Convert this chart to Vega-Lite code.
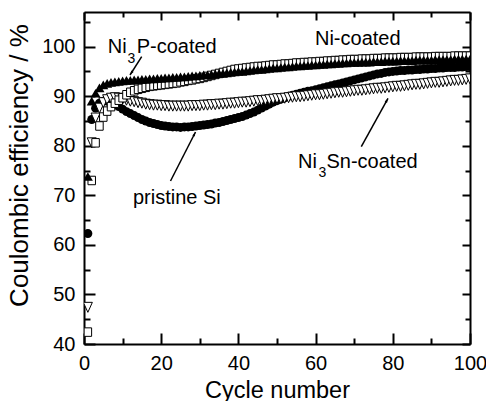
{
  "$schema": "https://vega.github.io/schema/vega-lite/v6.json",
  "width": 386,
  "height": 332,
  "autosize": {"type": "none"},
  "padding": {"left": 84, "top": 12, "right": 16, "bottom": 57},
  "background": "white",
  "config": {
    "view": {"stroke": null},
    "font": "Liberation Sans",
    "axis": {
      "grid": false,
      "domainColor": "black",
      "domainWidth": 2,
      "tickColor": "black",
      "tickWidth": 2,
      "labelColor": "black",
      "titleColor": "black",
      "labelFont": "Liberation Sans",
      "titleFont": "Liberation Sans",
      "labelFontSize": 20,
      "titleFontSize": 23.5,
      "titleFontWeight": "normal",
      "labelFlush": false,
      "labelOverlap": false,
      "labelBound": false
    }
  },
  "data": {
    "values": [
      {"cycle": 1, "si": 62.3, "p": 73.8, "sn": 47.4, "ni": 42.4},
      {"cycle": 2, "si": 85.3, "p": 89.0, "sn": 80.6, "ni": 73.0},
      {"cycle": 3, "si": 87.6, "p": 90.6, "sn": 85.6, "ni": 80.6},
      {"cycle": 4, "si": 88.6, "p": 91.7, "sn": 87.6, "ni": 84.0},
      {"cycle": 5, "si": 89.0, "p": 92.3, "sn": 88.7, "ni": 85.8},
      {"cycle": 6, "si": 89.0, "p": 92.6, "sn": 89.3, "ni": 87.0},
      {"cycle": 7, "si": 88.8, "p": 92.8, "sn": 89.6, "ni": 87.9},
      {"cycle": 8, "si": 88.4, "p": 92.9, "sn": 89.7, "ni": 88.6},
      {"cycle": 9, "si": 87.9, "p": 93.0, "sn": 89.6, "ni": 89.2},
      {"cycle": 10, "si": 87.4, "p": 93.1, "sn": 89.4, "ni": 89.7},
      {"cycle": 11, "si": 86.9, "p": 93.2, "sn": 89.2, "ni": 90.3},
      {"cycle": 12, "si": 86.5, "p": 93.2, "sn": 89.0, "ni": 90.8},
      {"cycle": 13, "si": 86.1, "p": 93.3, "sn": 88.9, "ni": 91.1},
      {"cycle": 14, "si": 85.7, "p": 93.3, "sn": 88.7, "ni": 91.4},
      {"cycle": 15, "si": 85.3, "p": 93.4, "sn": 88.6, "ni": 91.6},
      {"cycle": 16, "si": 85.0, "p": 93.4, "sn": 88.4, "ni": 91.8},
      {"cycle": 17, "si": 84.7, "p": 93.5, "sn": 88.3, "ni": 92.0},
      {"cycle": 18, "si": 84.5, "p": 93.5, "sn": 88.2, "ni": 92.1},
      {"cycle": 19, "si": 84.3, "p": 93.6, "sn": 88.2, "ni": 92.2},
      {"cycle": 20, "si": 84.1, "p": 93.6, "sn": 88.1, "ni": 92.3},
      {"cycle": 21, "si": 84.0, "p": 93.7, "sn": 88.1, "ni": 92.4},
      {"cycle": 22, "si": 83.9, "p": 93.7, "sn": 88.0, "ni": 92.5},
      {"cycle": 23, "si": 83.8, "p": 93.8, "sn": 88.0, "ni": 92.6},
      {"cycle": 24, "si": 83.8, "p": 93.8, "sn": 88.0, "ni": 92.7},
      {"cycle": 25, "si": 83.7, "p": 93.9, "sn": 88.0, "ni": 92.9},
      {"cycle": 26, "si": 83.8, "p": 93.9, "sn": 88.0, "ni": 93.0},
      {"cycle": 27, "si": 83.8, "p": 94.0, "sn": 88.0, "ni": 93.2},
      {"cycle": 28, "si": 83.9, "p": 94.1, "sn": 88.1, "ni": 93.3},
      {"cycle": 29, "si": 84.0, "p": 94.1, "sn": 88.1, "ni": 93.5},
      {"cycle": 30, "si": 84.1, "p": 94.2, "sn": 88.1, "ni": 93.6},
      {"cycle": 31, "si": 84.2, "p": 94.3, "sn": 88.2, "ni": 93.8},
      {"cycle": 32, "si": 84.3, "p": 94.3, "sn": 88.2, "ni": 94.0},
      {"cycle": 33, "si": 84.4, "p": 94.4, "sn": 88.3, "ni": 94.2},
      {"cycle": 34, "si": 84.6, "p": 94.5, "sn": 88.3, "ni": 94.4},
      {"cycle": 35, "si": 84.7, "p": 94.6, "sn": 88.4, "ni": 94.6},
      {"cycle": 36, "si": 84.9, "p": 94.6, "sn": 88.4, "ni": 94.8},
      {"cycle": 37, "si": 85.1, "p": 94.7, "sn": 88.5, "ni": 95.0},
      {"cycle": 38, "si": 85.3, "p": 94.8, "sn": 88.6, "ni": 95.2},
      {"cycle": 39, "si": 85.5, "p": 94.9, "sn": 88.6, "ni": 95.4},
      {"cycle": 40, "si": 85.7, "p": 95.0, "sn": 88.7, "ni": 95.5},
      {"cycle": 41, "si": 85.9, "p": 95.0, "sn": 88.8, "ni": 95.6},
      {"cycle": 42, "si": 86.2, "p": 95.1, "sn": 88.8, "ni": 95.7},
      {"cycle": 43, "si": 86.5, "p": 95.2, "sn": 88.9, "ni": 95.8},
      {"cycle": 44, "si": 86.8, "p": 95.3, "sn": 89.0, "ni": 95.9},
      {"cycle": 45, "si": 87.2, "p": 95.4, "sn": 89.1, "ni": 96.0},
      {"cycle": 46, "si": 87.6, "p": 95.4, "sn": 89.1, "ni": 96.0},
      {"cycle": 47, "si": 88.0, "p": 95.5, "sn": 89.2, "ni": 96.1},
      {"cycle": 48, "si": 88.4, "p": 95.6, "sn": 89.3, "ni": 96.2},
      {"cycle": 49, "si": 88.8, "p": 95.7, "sn": 89.4, "ni": 96.3},
      {"cycle": 50, "si": 89.1, "p": 95.7, "sn": 89.5, "ni": 96.3},
      {"cycle": 51, "si": 89.4, "p": 95.8, "sn": 89.5, "ni": 96.4},
      {"cycle": 52, "si": 89.7, "p": 95.9, "sn": 89.6, "ni": 96.5},
      {"cycle": 53, "si": 90.0, "p": 95.9, "sn": 89.7, "ni": 96.5},
      {"cycle": 54, "si": 90.2, "p": 96.0, "sn": 89.8, "ni": 96.6},
      {"cycle": 55, "si": 90.4, "p": 96.1, "sn": 89.9, "ni": 96.7},
      {"cycle": 56, "si": 90.6, "p": 96.1, "sn": 89.9, "ni": 96.7},
      {"cycle": 57, "si": 90.8, "p": 96.2, "sn": 90.0, "ni": 96.8},
      {"cycle": 58, "si": 91.0, "p": 96.2, "sn": 90.1, "ni": 96.8},
      {"cycle": 59, "si": 91.1, "p": 96.3, "sn": 90.2, "ni": 96.9},
      {"cycle": 60, "si": 91.3, "p": 96.3, "sn": 90.3, "ni": 96.9},
      {"cycle": 61, "si": 91.5, "p": 96.4, "sn": 90.3, "ni": 97.0},
      {"cycle": 62, "si": 91.7, "p": 96.4, "sn": 90.4, "ni": 97.0},
      {"cycle": 63, "si": 91.9, "p": 96.5, "sn": 90.5, "ni": 97.1},
      {"cycle": 64, "si": 92.1, "p": 96.5, "sn": 90.6, "ni": 97.1},
      {"cycle": 65, "si": 92.3, "p": 96.6, "sn": 90.7, "ni": 97.2},
      {"cycle": 66, "si": 92.5, "p": 96.6, "sn": 90.8, "ni": 97.2},
      {"cycle": 67, "si": 92.7, "p": 96.7, "sn": 90.8, "ni": 97.3},
      {"cycle": 68, "si": 92.9, "p": 96.7, "sn": 90.9, "ni": 97.3},
      {"cycle": 69, "si": 93.1, "p": 96.8, "sn": 91.0, "ni": 97.4},
      {"cycle": 70, "si": 93.3, "p": 96.8, "sn": 91.1, "ni": 97.4},
      {"cycle": 71, "si": 93.5, "p": 96.8, "sn": 91.2, "ni": 97.4},
      {"cycle": 72, "si": 93.7, "p": 96.9, "sn": 91.2, "ni": 97.5},
      {"cycle": 73, "si": 93.9, "p": 96.9, "sn": 91.3, "ni": 97.5},
      {"cycle": 74, "si": 94.1, "p": 96.9, "sn": 91.4, "ni": 97.5},
      {"cycle": 75, "si": 94.3, "p": 97.0, "sn": 91.5, "ni": 97.6},
      {"cycle": 76, "si": 94.5, "p": 97.0, "sn": 91.6, "ni": 97.6},
      {"cycle": 77, "si": 94.6, "p": 97.0, "sn": 91.6, "ni": 97.6},
      {"cycle": 78, "si": 94.8, "p": 97.1, "sn": 91.7, "ni": 97.7},
      {"cycle": 79, "si": 94.9, "p": 97.1, "sn": 91.8, "ni": 97.7},
      {"cycle": 80, "si": 95.0, "p": 97.1, "sn": 91.9, "ni": 97.7},
      {"cycle": 81, "si": 95.1, "p": 97.1, "sn": 92.0, "ni": 97.7},
      {"cycle": 82, "si": 95.2, "p": 97.2, "sn": 92.0, "ni": 97.8},
      {"cycle": 83, "si": 95.2, "p": 97.2, "sn": 92.1, "ni": 97.8},
      {"cycle": 84, "si": 95.3, "p": 97.2, "sn": 92.2, "ni": 97.8},
      {"cycle": 85, "si": 95.3, "p": 97.2, "sn": 92.3, "ni": 97.8},
      {"cycle": 86, "si": 95.4, "p": 97.3, "sn": 92.4, "ni": 97.9},
      {"cycle": 87, "si": 95.4, "p": 97.3, "sn": 92.4, "ni": 97.9},
      {"cycle": 88, "si": 95.5, "p": 97.3, "sn": 92.5, "ni": 97.9},
      {"cycle": 89, "si": 95.5, "p": 97.3, "sn": 92.6, "ni": 97.9},
      {"cycle": 90, "si": 95.6, "p": 97.3, "sn": 92.7, "ni": 97.9},
      {"cycle": 91, "si": 95.6, "p": 97.4, "sn": 92.8, "ni": 98.0},
      {"cycle": 92, "si": 95.7, "p": 97.4, "sn": 92.8, "ni": 98.0},
      {"cycle": 93, "si": 95.7, "p": 97.4, "sn": 92.9, "ni": 98.0},
      {"cycle": 94, "si": 95.8, "p": 97.4, "sn": 93.0, "ni": 98.0},
      {"cycle": 95, "si": 95.8, "p": 97.4, "sn": 93.1, "ni": 98.0},
      {"cycle": 96, "si": 95.8, "p": 97.5, "sn": 93.2, "ni": 98.1},
      {"cycle": 97, "si": 95.9, "p": 97.5, "sn": 93.2, "ni": 98.1},
      {"cycle": 98, "si": 95.9, "p": 97.5, "sn": 93.3, "ni": 98.1},
      {"cycle": 99, "si": 96.0, "p": 97.5, "sn": 93.4, "ni": 98.1},
      {"cycle": 100, "si": 96.0, "p": 97.5, "sn": 93.5, "ni": 98.1}
    ]
  },
  "layer": [
    {
      "mark": {"type": "point", "shape": "circle", "filled": true, "fill": "black", "strokeWidth": 0, "size": 80, "opacity": 1, "clip": true},
      "encoding": {
        "x": {
          "field": "cycle", "type": "quantitative",
          "scale": {"domain": [0, 100], "nice": false, "zero": false},
          "axis": {"orient": "bottom", "values": [0, 20, 40, 60, 80, 100], "tickSize": -11, "labelPadding": 20,
                   "title": "Cycle number", "titleY": 53, "titleBaseline": "alphabetic"}
        },
        "y": {
          "field": "si", "type": "quantitative",
          "scale": {"domain": [40, 107], "nice": false, "zero": false},
          "axis": {"orient": "left", "values": [40, 50, 60, 70, 80, 90, 100], "tickSize": -11, "labelPadding": 20,
                   "title": "Coulombic efficiency / %", "titleFontSize": 26, "titleAngle": 270, "titleX": -57, "titleY": 153,
                   "titleAlign": "center", "titleBaseline": "alphabetic"}
        }
      }
    },
    {
      "mark": {"type": "point", "shape": "M-0.9,-1L0.9,-1L0,1Z", "filled": true, "fill": "white", "stroke": "black", "strokeWidth": 1, "size": 100, "opacity": 1, "clip": true},
      "encoding": {
        "x": {
          "field": "cycle", "type": "quantitative",
          "scale": {"domain": [0, 100], "nice": false, "zero": false},
          "axis": {"orient": "top", "values": [0, 20, 40, 60, 80, 100], "tickSize": -8, "labels": false, "title": null}
        },
        "y": {
          "field": "sn", "type": "quantitative",
          "scale": {"domain": [40, 107], "nice": false, "zero": false},
          "axis": {"orient": "right", "values": [40, 50, 60, 70, 80, 90, 100], "tickSize": -8, "labels": false, "title": null}
        }
      }
    },
    {
      "mark": {"type": "point", "shape": "M-0.75,-0.85L0.75,-0.85L0.75,0.85L-0.75,0.85Z", "filled": true, "fill": "white", "stroke": "black", "strokeWidth": 1, "size": 100, "opacity": 1, "clip": true},
      "encoding": {
        "x": {
          "field": "cycle", "type": "quantitative",
          "scale": {"domain": [0, 100], "nice": false, "zero": false},
          "axis": {"orient": "top", "values": [10, 30, 50, 70, 90], "tickSize": -5, "labels": false, "domain": false, "title": null}
        },
        "y": {
          "field": "ni", "type": "quantitative",
          "scale": {"domain": [40, 107], "nice": false, "zero": false},
          "axis": {"orient": "right", "values": [45, 55, 65, 75, 85, 95, 105], "tickSize": -5, "labels": false, "domain": false, "title": null}
        }
      }
    },
    {
      "mark": {"type": "point", "shape": "triangle-up", "filled": true, "fill": "black", "strokeWidth": 0, "size": 100, "opacity": 1, "clip": true},
      "encoding": {
        "x": {
          "field": "cycle", "type": "quantitative",
          "scale": {"domain": [0, 100], "nice": false, "zero": false},
          "axis": {"orient": "bottom", "values": [10, 30, 50, 70, 90], "tickSize": -6, "labels": false, "domain": false, "title": null}
        },
        "y": {
          "field": "p", "type": "quantitative",
          "scale": {"domain": [40, 107], "nice": false, "zero": false},
          "axis": {"orient": "left", "values": [45, 55, 65, 75, 85, 95, 105], "tickSize": -6, "labels": false, "domain": false, "title": null}
        }
      }
    },
    {
      "data": {
        "values": [
          {"cycle": 6.14, "value": 98.67, "label": "Ni"},
          {"cycle": 13.65, "value": 98.67, "label": "P-coated"},
          {"cycle": 59.84, "value": 100.34, "label": "Ni-coated"},
          {"cycle": 12.69, "value": 68.25, "label": "pristine Si"},
          {"cycle": 55.44, "value": 75.46, "label": "Ni"},
          {"cycle": 62.82, "value": 75.46, "label": "Sn-coated"}
        ]
      },
      "mark": {"type": "text", "align": "left", "baseline": "alphabetic", "fontSize": 20, "font": "Liberation Sans", "color": "black"},
      "encoding": {
        "x": {"field": "cycle", "type": "quantitative", "axis": null},
        "y": {"field": "value", "type": "quantitative", "axis": null},
        "text": {"field": "label"}
      }
    },
    {
      "data": {
        "values": [
          {"cycle": 11.27, "value": 96.77, "label": "3"},
          {"cycle": 60.75, "value": 73.76, "label": "3"}
        ]
      },
      "mark": {"type": "text", "align": "left", "baseline": "alphabetic", "fontSize": 14, "font": "Liberation Sans", "color": "black"},
      "encoding": {
        "x": {"field": "cycle", "type": "quantitative", "axis": null},
        "y": {"field": "value", "type": "quantitative", "axis": null},
        "text": {"field": "label"}
      }
    },
    {
      "data": {
        "values": [
          {"cycle": 14.95, "value": 97.98, "cycle2": 11.92, "value2": 94.29},
          {"cycle": 22.41, "value": 72.89, "cycle2": 28.89, "value2": 82.78},
          {"cycle": 71.84, "value": 79.82, "cycle2": 78.76, "value2": 89.58}
        ]
      },
      "mark": {"type": "rule", "color": "black", "strokeWidth": 1.5},
      "encoding": {
        "x": {"field": "cycle", "type": "quantitative", "axis": null},
        "y": {"field": "value", "type": "quantitative", "axis": null},
        "x2": {"field": "cycle2"},
        "y2": {"field": "value2"}
      }
    },
    {
      "data": {"values": [{"cycle": 11.92, "value": 94.29}]},
      "mark": {"type": "point", "shape": "M0,0L-0.6,2L0.6,2Z", "size": 20, "angle": 212.6, "filled": true, "fill": "black", "strokeWidth": 0, "opacity": 1},
      "encoding": {
        "x": {"field": "cycle", "type": "quantitative", "axis": null},
        "y": {"field": "value", "type": "quantitative", "axis": null}
      }
    },
    {
      "data": {"values": [{"cycle": 28.89, "value": 82.78}]},
      "mark": {"type": "point", "shape": "M0,0L-0.6,2L0.6,2Z", "size": 20, "angle": 27, "filled": true, "fill": "black", "strokeWidth": 0, "opacity": 1},
      "encoding": {
        "x": {"field": "cycle", "type": "quantitative", "axis": null},
        "y": {"field": "value", "type": "quantitative", "axis": null}
      }
    },
    {
      "data": {"values": [{"cycle": 78.76, "value": 89.58}]},
      "mark": {"type": "point", "shape": "M0,0L-0.6,2L0.6,2Z", "size": 20, "angle": 28.9, "filled": true, "fill": "black", "strokeWidth": 0, "opacity": 1},
      "encoding": {
        "x": {"field": "cycle", "type": "quantitative", "axis": null},
        "y": {"field": "value", "type": "quantitative", "axis": null}
      }
    }
  ],
  "resolve": {"axis": {"x": "independent", "y": "independent"}}
}
